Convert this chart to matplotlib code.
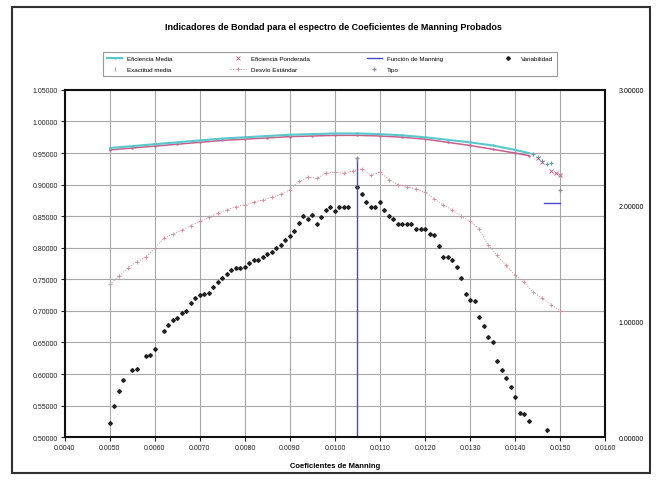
import numpy as np
import matplotlib
matplotlib.use("Agg")
import matplotlib.pyplot as plt
from matplotlib.patches import Rectangle

plt.rcParams['font.family'] = ['Liberation Sans', 'DejaVu Sans']

# Upper pair of curves (Eficiencia Media / Eficiencia Ponderada)
x_upper = [0.0050, 0.0055, 0.0060, 0.0065, 0.0070, 0.0075, 0.0080, 0.0085, 0.0090,
           0.0095, 0.0100, 0.0105, 0.0110, 0.0115, 0.0120, 0.0125, 0.0130, 0.0135,
           0.0140, 0.0143]
ef_media = [0.958, 0.961, 0.964, 0.967, 0.970, 0.973, 0.975, 0.977, 0.979,
            0.980, 0.981, 0.981, 0.980, 0.978, 0.975, 0.971, 0.967, 0.962,
            0.955, 0.950]
ef_ponderada = [0.955, 0.958, 0.961, 0.964, 0.967, 0.970, 0.972, 0.974, 0.976,
                0.977, 0.978, 0.978, 0.977, 0.975, 0.972, 0.967, 0.962, 0.956,
                0.950, 0.946]
x_upper_tail = [0.0144, 0.0145, 0.0146, 0.0147, 0.0148]
ef_media_tail = [0.948, 0.944, 0.938, 0.932, 0.935]
x_pond_tail = [0.0145, 0.0146, 0.0148, 0.0149, 0.0150]
ef_pond_tail = [0.942, 0.936, 0.922, 0.918, 0.915]

# Middle arch (Desvio Estandar)
x_desv = [0.0050, 0.0052, 0.0054, 0.0056, 0.0058, 0.0060, 0.0062, 0.0064, 0.0066,
          0.0068, 0.0070, 0.0072, 0.0074, 0.0076, 0.0078, 0.0080, 0.0082, 0.0084,
          0.0086, 0.0088, 0.0090, 0.0092, 0.0094, 0.0096, 0.0098, 0.0100, 0.0102,
          0.0104, 0.0106, 0.0108, 0.0110, 0.0112, 0.0114, 0.0116, 0.0118, 0.0120,
          0.0122, 0.0124, 0.0126, 0.0128, 0.0130, 0.0132, 0.0134, 0.0136, 0.0138,
          0.0140, 0.0142, 0.0144, 0.0146, 0.0148, 0.0150]
desv = [0.742, 0.755, 0.768, 0.778, 0.785, 0.800, 0.815, 0.822, 0.828,
        0.835, 0.842, 0.848, 0.855, 0.860, 0.865, 0.868, 0.872, 0.876,
        0.880, 0.885, 0.892, 0.905, 0.912, 0.910, 0.918, 0.920, 0.918,
        0.922, 0.925, 0.915, 0.920, 0.908, 0.900, 0.897, 0.893, 0.888,
        0.878, 0.868, 0.860, 0.850, 0.842, 0.830, 0.805, 0.788, 0.772,
        0.757, 0.745, 0.730, 0.720, 0.710, 0.700]

# Black dots (Variabilidad)
x_var = [0.0050, 0.0051, 0.0052, 0.0053, 0.0055, 0.0056, 0.0058, 0.0059, 0.0060,
         0.0062, 0.0063, 0.0064, 0.0065, 0.0066, 0.0067, 0.0068, 0.0069, 0.0070,
         0.0071, 0.0072, 0.0073, 0.0074, 0.0075, 0.0076, 0.0077, 0.0078, 0.0079,
         0.0080, 0.0081, 0.0082, 0.0083, 0.0084, 0.0085, 0.0086, 0.0087, 0.0088,
         0.0089, 0.0090, 0.0091, 0.0092, 0.0093, 0.0094, 0.0095, 0.0096, 0.0097,
         0.0098, 0.0099, 0.0100, 0.0101, 0.0102, 0.0103, 0.0105, 0.0106, 0.0107,
         0.0108, 0.0109, 0.0110, 0.0111, 0.0112, 0.0113, 0.0114, 0.0115, 0.0116,
         0.0117, 0.0118, 0.0119, 0.0120, 0.0121, 0.0122, 0.0123, 0.0124, 0.0125,
         0.0126, 0.0127, 0.0128, 0.0129, 0.0130, 0.0131, 0.0132, 0.0133, 0.0134,
         0.0135, 0.0136, 0.0137, 0.0138, 0.0139, 0.0140, 0.0141, 0.0142, 0.0143,
         0.0147]
variab = [0.522, 0.550, 0.573, 0.590, 0.607, 0.608, 0.628, 0.630, 0.640,
          0.668, 0.678, 0.686, 0.688, 0.697, 0.700, 0.712, 0.720, 0.725,
          0.727, 0.728, 0.738, 0.746, 0.752, 0.758, 0.764, 0.768, 0.768,
          0.770, 0.776, 0.780, 0.780, 0.785, 0.790, 0.794, 0.800, 0.805,
          0.812, 0.818, 0.826, 0.840, 0.850, 0.845, 0.852, 0.838, 0.848,
          0.860, 0.864, 0.858, 0.864, 0.864, 0.864, 0.897, 0.885, 0.872,
          0.865, 0.865, 0.873, 0.860, 0.850, 0.845, 0.837, 0.837, 0.837,
          0.837, 0.830, 0.830, 0.830, 0.822, 0.820, 0.803, 0.786, 0.785,
          0.780, 0.770, 0.752, 0.726, 0.718, 0.716, 0.690, 0.676, 0.658,
          0.650, 0.620, 0.607, 0.594, 0.580, 0.563, 0.538, 0.536, 0.526,
          0.512]

# Funcion de Manning (blue line)
x_manning = [0.0105, 0.0105, np.nan, 0.01465, 0.0150]
manning = [0.50, 0.942, np.nan, 0.871, 0.871]

# faint series
x_exact = [0.0050]
exact = [0.742]
x_tipo = [0.0150, 0.0105]
tipo = [0.892, 0.942]

xticks = np.arange(0.0040, 0.01601, 0.0010)
yticks = np.arange(0.50, 1.0501, 0.05)
yticks_right = [0.0, 1.0, 2.0, 3.0]

fig = plt.figure(figsize=(6.62, 4.81), dpi=100)
ax = fig.add_axes([0.098, 0.089, 0.816, 0.722])

ax.plot(x_upper, ef_ponderada, color='#c8608a', lw=1.1, marker='.', ms=1.5, zorder=3)
l_media, = ax.plot(x_upper, ef_media, color='#58c8cc', lw=1.5, marker='.', ms=1.5,
                   zorder=4, label='Eficiencia Media')
ax.plot(x_upper_tail, ef_media_tail, ls='none', marker='+', ms=3, mew=0.7,
        color='#40a8b0')
l_pond, = ax.plot(x_pond_tail, ef_pond_tail, ls='none', marker='x', ms=2.5, mew=0.7,
                  color='#c8608a', label='Eficiencia Ponderada')
l_desv, = ax.plot(x_desv, desv, ls=':', lw=0.7, marker='+', ms=2.5, mew=0.6,
                  color='#d88898', label='Desvío Estándar')
l_var, = ax.plot(x_var, variab, ls='none', marker='D', ms=1.9, color='#202020',
                 label='Variabilidad')
l_man, = ax.plot(x_manning, manning, color='#4848d8', lw=1.0, label='Función de Manning')
l_ex, = ax.plot(x_exact, exact, ls='none', marker='|', ms=3, color='#b0b0b0',
                label='Exactitud media')
l_tipo, = ax.plot(x_tipo, tipo, ls='none', marker='+', ms=3, color='#9090a0',
                  label='Tipo')

ax.set_xlim(0.0040, 0.0160)
ax.set_ylim(0.50, 1.05)
ax.set_xticks(xticks)
ax.set_yticks(yticks)
ax.set_xticklabels([f'{v:.4f}' for v in xticks])
ax.set_yticklabels([f'{v:.5f}' for v in yticks])
ax.grid(True, color='#a8a8a8', lw=0.8)
ax.set_axisbelow(True)
ax.tick_params(labelsize=5, length=3, width=0.8, colors='#202020', pad=2)
for s in ax.spines.values():
    s.set_linewidth(1.5)
    s.set_color('#101010')
ax.set_xlabel('Coeficientes de Manning', fontsize=5.5, fontweight='bold', labelpad=8)

ax2 = ax.twinx()
ax2.set_ylim(0, 3)
ax2.set_yticks(yticks_right)
ax2.set_yticklabels([f'{v:.5f}' for v in yticks_right])
ax2.tick_params(labelsize=5, length=0, pad=10)
for s in ax2.spines.values():
    s.set_visible(False)

fig.text(0.503, 0.942, 'Indicadores de Bondad para el espectro de Coeficientes de Manning Probados',
         ha='center', va='center', fontsize=6.5, fontweight='bold')

handles = [l_media, l_ex, l_pond, l_desv, l_man, l_tipo, l_var]
leg = fig.legend(handles=handles, loc='lower left', ncol=4,
                 bbox_to_anchor=(0.151, 0.834, 0.695, 0.068), mode='expand',
                 fontsize=4.5, frameon=True, fancybox=False, handlelength=2.5,
                 borderpad=0.6, labelspacing=0.9)
leg.get_frame().set_edgecolor('#808080')
leg.get_frame().set_linewidth(0.8)

fig.patches.append(Rectangle((12 / 662, 1 - 474 / 481), 638 / 662, 466 / 481,
                             transform=fig.transFigure, fill=False,
                             edgecolor='#303030', lw=1.5))

fig.savefig('out.png', dpi=100)
